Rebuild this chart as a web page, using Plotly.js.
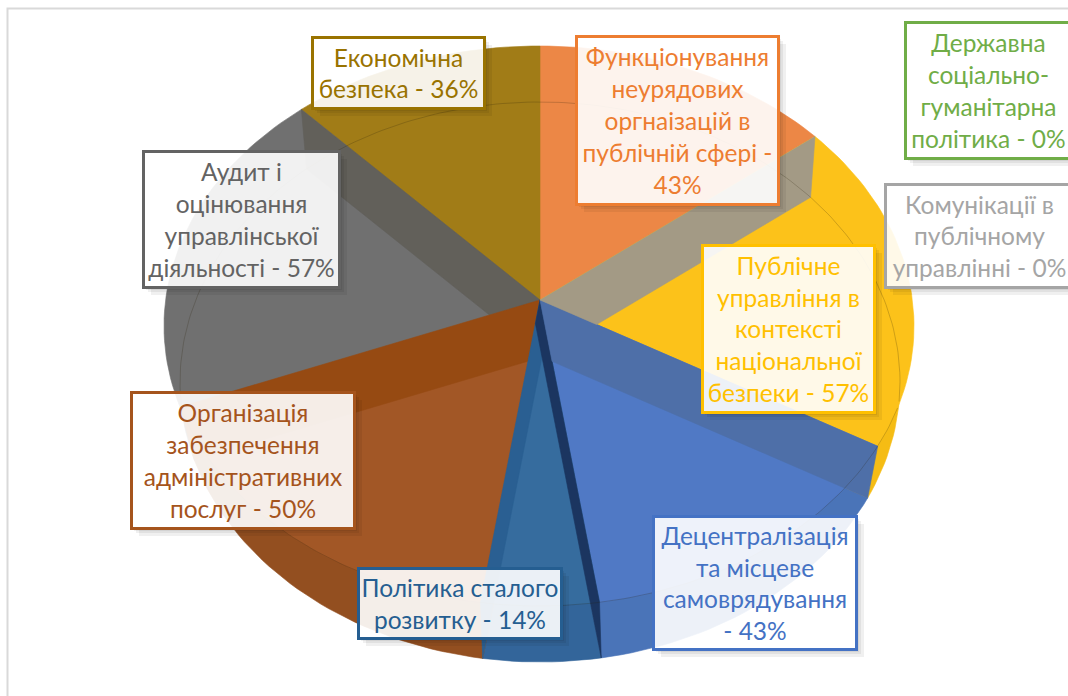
<!DOCTYPE html>
<html><head><meta charset="utf-8">
<script src="https://cdn.plot.ly/plotly-3.0.1.min.js"></script>
<style>html,body{margin:0;padding:0;background:#fff;overflow:hidden}#c{width:1068px;height:696px}</style>
</head><body><div id="c"></div>
<script>
// ---- data ----
var categories = ["Функціонування неурядових оргнаізацій в публічній сфері","Публічне управління в контексті національної безпеки","Децентралізація та місцеве самоврядування","Політика сталого розвитку","Організація забезпечення адміністративних послуг","Аудит і оцінювання управлінської діяльності","Економічна безпека","Державна соціально-гуманітарна політика","Комунікації в публічному управлінні"];
var values = [43,57,43,14,50,57,36,0,0];
var labelLines = [
 ["Функціонування","неурядових","оргнаізацій в","публічній сфері -","43%"],
 ["Публічне","управління в","контексті","національної","безпеки - 57%"],
 ["Децентралізація","та місцеве","самоврядування","- 43%"],
 ["Політика сталого","розвитку - 14%"],
 ["Організація","забезпечення","адміністративних","послуг - 50%"],
 ["Аудит і","оцінювання","управлінської","діяльності - 57%"],
 ["Економічна","безпека - 36%"],
 ["Державна","соціально-","гуманітарна","політика - 0%"],
 ["Комунікації в","публічному","управлінні - 0%"]
];
// ---- styles ----
var faceColors = ["#EC8746","#FCC21A","#5079C5","#366C9E","#A25726","#707070","#A17C17"];
var sideColors = ["#E07A35","#F5BC14","#4A74B8","#33659A","#934F20","#696969","#987315"];
var labelColors = ["#ED7D31","#FFC000","#4472C4","#255E91","#A5541C","#636363","#997300","#70AD47","#A5A5A5"];
var boxes = [[575,35,779,205],[701,244,875,413],[652,515,857,650],[357,567,562,639],[130,391,355,529],[142,150,340,288],[311,36,485,109],[904,21,1072,159],[884,183,1074,288]];
// ---- geometry of the projected cylinder ----
var P={x:540,y:300}, Q={x:542,y:357};
var EA={cx:539,cy:326,rx:375,ry:280}, EB={cx:540,cy:382,rx:360,ry:280};
var ASPECT=1.333;
function dir(th){var r=th*Math.PI/180;return {x:ASPECT*Math.sin(r),y:-Math.cos(r)};}
function hit(p,d,e){
  var ax=d.x/e.rx, ay=d.y/e.ry, bx=(p.x-e.cx)/e.rx, by=(p.y-e.cy)/e.ry;
  var a=ax*ax+ay*ay, b=2*(ax*bx+ay*by), c=bx*bx+by*by-1;
  var t=(-b+Math.sqrt(b*b-4*a*c))/(2*a);
  return {x:p.x+t*d.x,y:p.y+t*d.y};
}
function cross(p1,p2,p,d){ // line p1-p2 with ray p+t*d
  var sx=p2.x-p1.x, sy=p2.y-p1.y, den=sx*d.y-sy*d.x;
  var u=((p.x-p1.x)*d.y-(p.y-p1.y)*d.x)/den;
  return {x:p1.x+u*sx,y:p1.y+u*sy};
}
var total=values.reduce(function(a,b){return a+b;},0), bounds=[0];
values.forEach(function(v){bounds.push(bounds[bounds.length-1]+v/total*360);});
function sector(apex,e,t1,t2){
  var xs=[apex.x],ys=[apex.y],n=Math.max(2,Math.ceil((t2-t1)/1.5));
  for(var i=0;i<=n;i++){var h=hit(apex,dir(t1+(t2-t1)*i/n),e);xs.push(h.x);ys.push(h.y);}
  xs.push(apex.x);ys.push(apex.y);return {x:xs,y:ys};
}
function poly(s,fill,line,w){return {type:"scatter",mode:"lines",x:s.x,y:s.y,fill:"toself",fillcolor:fill,line:{color:line||fill,width:w===undefined?0.6:w},hoverinfo:"skip",showlegend:false};}
var traces=[];
var N=7;
for(var i=0;i<N;i++) traces.push(poly(sector(Q,EB,bounds[i],bounds[i+1]),sideColors[i]));
for(i=0;i<N;i++) traces.push(poly(sector(P,EA,bounds[i],bounds[i+1]),faceColors[i]));
// walls: boundary index, neighbouring boundary that clips them, colour
var wallB=[6,5,4,3,2,1], wallAdj=[5,4,3,4,3,2], wallC=["#62605A","#964A12","#2A5F92","#1B3560","#4E6FA8","#A39A85"];
wallB.forEach(function(b,k){
  var th=bounds[b], a=hit(P,dir(th),EA), c=hit(Q,dir(th),EB), q=cross(Q,c,P,dir(bounds[wallAdj[k]]));
  traces.push(poly({x:[P.x,a.x,c.x,q.x,P.x],y:[P.y,a.y,c.y,q.y,P.y]},wallC[k]));
});
// rim lines where the two ellipses overlap
function inside(x,y,e){var u=(x-e.cx)/e.rx,v=(y-e.cy)/e.ry;return u*u+v*v<1;}
function rim(e,o){
  var xs=[],ys=[];
  for(var d=0;d<=360;d+=1){var r=d*Math.PI/180,x=e.cx+e.rx*Math.cos(r),y=e.cy+e.ry*Math.sin(r);
    if(inside(x,y,o)){xs.push(x);ys.push(y);}else{xs.push(null);ys.push(null);}}
  return {type:"scatter",mode:"lines",x:xs,y:ys,line:{color:"rgba(40,30,10,0.22)",width:1},hoverinfo:"skip",showlegend:false};
}
traces.push(rim(EA,EB));traces.push(rim(EB,EA));

// labels with soft shadows
var annotations=[],shapes=[{type:"rect",xref:"x",yref:"y",x0:7.5,y0:8.5,x1:1090,y1:720,line:{color:"#D9D9D9",width:2},fillcolor:"rgba(0,0,0,0)",layer:"below"}];
function lShape(b,o){return "M "+(b[2])+" "+(b[1]+o+2)+" L "+(b[2]+o)+" "+(b[1]+o+2)+" L "+(b[2]+o)+" "+(b[3]+o)+" L "+(b[0]+o+2)+" "+(b[3]+o)+" L "+(b[0]+o+2)+" "+(b[3])+" L "+(b[2])+" "+(b[3])+" Z";}
boxes.forEach(function(b,i){
  [7,4,2].forEach(function(o){shapes.push({type:"path",xref:"x",yref:"y",path:lShape(b,o),fillcolor:"rgba(0,0,0,0.06)",line:{width:0},layer:"above"});});
  annotations.push({xref:"x",yref:"y",x:(b[0]+b[2])/2,y:(b[1]+b[3])/2,xanchor:"center",yanchor:"middle",
    text:labelLines[i].join("<br>"),showarrow:false,align:"center",valign:"middle",
    width:b[2]-b[0]-5,height:b[3]-b[1]-5,borderpad:0,borderwidth:3,bordercolor:labelColors[i],bgcolor:"rgba(255,255,255,0.9)",
    font:{family:"Lato, 'Noto Sans', sans-serif",size:24.5,color:labelColors[i]},captureevents:false});
});
Plotly.newPlot("c",traces,{
  width:1068,height:696,margin:{l:0,r:0,t:0,b:0},paper_bgcolor:"#fff",plot_bgcolor:"#fff",showlegend:false,
  xaxis:{range:[0,1068],visible:false,fixedrange:true},
  yaxis:{range:[696,0],visible:false,fixedrange:true},
  shapes:shapes,annotations:annotations
},{displayModeBar:false,staticPlot:true});
</script></body></html>
